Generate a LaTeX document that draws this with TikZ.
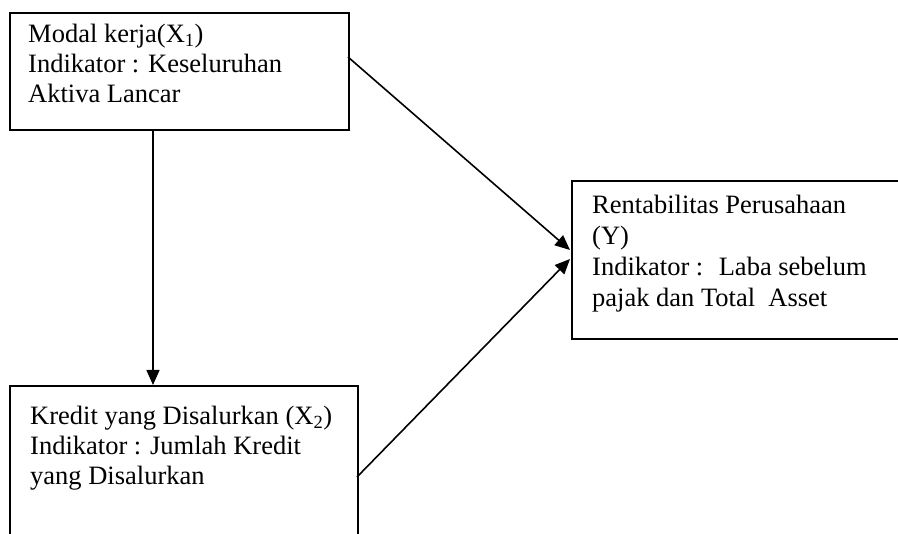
\documentclass[tikz,border=0pt]{standalone}
\usepackage{fontspec}
\setmainfont{Liberation Serif}
\usetikzlibrary{arrows.meta}
\begin{document}
\begin{tikzpicture}[x=1pt,y=-1pt,
  box/.style={draw,line width=2pt,rectangle,inner sep=0pt,anchor=north west},
  txt/.style={anchor=base west,inner sep=0pt},
  conn/.style={line width=1.6pt,-{Triangle[length=15pt,width=13pt]}}]
\useasboundingbox (0,0) rectangle (898,534);
\clip (0,0) rectangle (898,534);
\node[box,minimum width=339pt,minimum height=117pt] (x1) at (9,12) {};
\node[box,minimum width=348pt,minimum height=200pt] (x2) at (9,385) {};
\node[box,minimum width=340pt,minimum height=158pt] (y) at (571,180) {};
\node[txt] (t1) at (28,43) {\parbox[t]{330pt}{\fontsize{26.5}{30}\selectfont Modal kerja(X\textsubscript{1})\\Indikator : Keseluruhan\\Aktiva Lancar}};
\node[txt] (t2) at (30,425) {\parbox[t]{330pt}{\fontsize{26.5}{30}\selectfont Kredit yang Disalurkan (X\textsubscript{2})\\Indikator : Jumlah Kredit\\yang Disalurkan}};
\node[txt] (t3) at (592,214) {\parbox[t]{300pt}{\fontsize{26.5}{31}\selectfont Rentabilitas Perusahaan\\(Y)\\Indikator : ~Laba sebelum\\pajak dan Total ~Asset}};
\coordinate (a1) at (348,57);
\coordinate (a2) at (357,477);
\coordinate (b1) at (570,250);
\coordinate (b2) at (570,259);
\draw[conn] (x1.south -| 153,0) -- (x2.north -| 153,0);
\draw[conn] (a1) -- (b1);
\draw[conn] (a2) -- (b2);
\end{tikzpicture}
\end{document}
